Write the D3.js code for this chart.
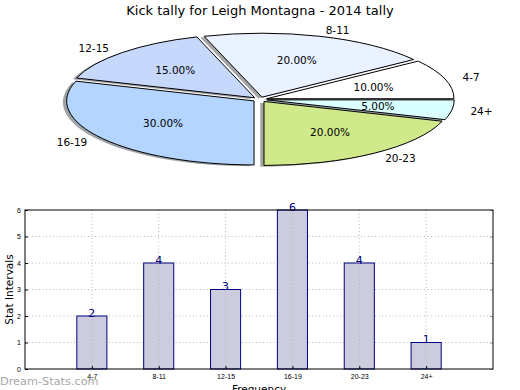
<!DOCTYPE html>
<html>
<head>
<meta charset="utf-8">
<script src="https://cdn.jsdelivr.net/npm/d3@7"></script>
<style>
  body { margin: 0; background: #fff; }
  svg { font-family: "DejaVu Sans", sans-serif; }
</style>
</head>
<body>
<svg id="chart" width="520" height="390"></svg>
<script>
var categories = ["4-7", "8-11", "12-15", "16-19", "20-23", "24+"];
var counts = [2, 4, 3, 6, 4, 1];
var sliceColors = ["#ffffff", "#eaf1ff", "#c6d9fd", "#b3d5ff", "#cfe98b", "#d9ffff"];
var yTicks = [0, 1, 2, 3, 4, 5, 6];
var title = "Kick tally for Leigh Montagna - 2014 tally";

var svg = d3.select("#chart");

// ---- pie (squashed, exploded, with shadow) ----
var cx = 259.8, cy = 99.5, rx = 187.4, ry = 64, explode = 0.038;
var total = d3.sum(counts);

var pie = d3.pie().sort(null)
  .startAngle(Math.PI / 2)
  .endAngle(Math.PI / 2 - 2 * Math.PI)
  .value(function (d) { return d; });
var arcs = pie(counts);
var arc = d3.arc().innerRadius(0).outerRadius(1);

function mid(d) { return (d.startAngle + d.endAngle) / 2; }
function offX(d) { return cx + explode * rx * Math.sin(mid(d)); }
function offY(d) { return cy - explode * ry * Math.cos(mid(d)); }

svg.append("text")
  .attr("x", 260).attr("y", 15)
  .attr("text-anchor", "middle")
  .style("font-size", "13px")
  .text(title);

var pieG = svg.append("g");

// shadows first
pieG.selectAll("path.shadow")
  .data(arcs)
  .enter().append("path")
  .attr("class", "shadow")
  .attr("transform", function (d) {
    return "translate(" + (offX(d) - 0.02 * rx) + "," + (offY(d) + 0.02 * ry) + ") scale(" + rx + "," + ry + ")";
  })
  .attr("d", arc)
  .attr("fill", function (d, i) { return d3.rgb(sliceColors[i]).darker(4); })
  .attr("opacity", 0.45)
  .attr("stroke", "none");

pieG.selectAll("path.wedge")
  .data(arcs)
  .enter().append("path")
  .attr("class", "wedge")
  .attr("transform", function (d) {
    return "translate(" + offX(d) + "," + offY(d) + ") scale(" + rx + "," + ry + ")";
  })
  .attr("d", arc)
  .attr("fill", function (d, i) { return sliceColors[i]; })
  .attr("stroke", "#000")
  .attr("stroke-width", 1)
  .attr("vector-effect", "non-scaling-stroke");

pieG.selectAll("text.lab")
  .data(arcs)
  .enter().append("text")
  .attr("class", "lab")
  .attr("x", function (d) { return offX(d) + 1.1 * rx * Math.sin(mid(d)); })
  .attr("y", function (d) { return offY(d) - 1.1 * ry * Math.cos(mid(d)); })
  .attr("dy", "0.35em")
  .attr("text-anchor", function (d) { return Math.sin(mid(d)) > 0 ? "start" : "end"; })
  .style("font-size", "10.5px")
  .text(function (d, i) { return categories[i]; });

pieG.selectAll("text.pct")
  .data(arcs)
  .enter().append("text")
  .attr("class", "pct")
  .attr("x", function (d) { return offX(d) + 0.6 * rx * Math.sin(mid(d)); })
  .attr("y", function (d) { return offY(d) - 0.6 * ry * Math.cos(mid(d)); })
  .attr("dy", "0.35em")
  .attr("text-anchor", "middle")
  .style("font-size", "10.5px")
  .text(function (d) { return (d.value / total * 100).toFixed(2) + "%"; });

// ---- bar chart ----
var margin = { left: 25, top: 210, right: 27, bottom: 21 };
var width = 520 - margin.left - margin.right,
  height = 390 - margin.top - margin.bottom;

var x = d3.scaleLinear().domain([0, categories.length + 1]).range([0, width]);
var y = d3.scaleLinear().domain([0, 6]).range([height, 0]);
var barW = 0.45;

var g = svg.append("g")
  .attr("transform", "translate(" + margin.left + "," + margin.top + ")");

// grid
g.append("g").selectAll("line")
  .data(yTicks.slice(1, -1))
  .enter().append("line")
  .attr("x1", 0).attr("x2", width)
  .attr("y1", function (d) { return y(d); })
  .attr("y2", function (d) { return y(d); })
  .attr("stroke", "#b8b8b8")
  .attr("stroke-dasharray", "1,2.5");

g.append("g").selectAll("rect")
  .data(counts)
  .enter().append("rect")
  .attr("x", function (d, i) { return x(i + 1 - barW / 2); })
  .attr("y", function (d) { return y(d); })
  .attr("width", x(barW) - x(0))
  .attr("height", function (d) { return height - y(d); })
  .attr("fill", "#ccccdf")
  .attr("stroke", "#000080")
  .attr("stroke-width", 1);

g.append("g").selectAll("line")
  .data(categories)
  .enter().append("line")
  .attr("x1", function (d, i) { return x(i + 1); })
  .attr("x2", function (d, i) { return x(i + 1); })
  .attr("y1", 0).attr("y2", height)
  .attr("stroke", "#b8b8b8")
  .attr("stroke-dasharray", "1,2.5");

g.append("g").selectAll("text")
  .data(counts)
  .enter().append("text")
  .attr("x", function (d, i) { return x(i + 1); })
  .attr("y", function (d) { return y(d) + 0.5; })
  .attr("text-anchor", "middle")
  .attr("fill", "#000080")
  .style("font-size", "11px")
  .text(function (d) { return d; });

// axes
var yAxis = d3.axisLeft(y).tickValues(yTicks).tickFormat(d3.format("d"))
  .tickSize(-3).tickPadding(4);
var xAxis = d3.axisBottom(x)
  .tickValues(d3.range(1, categories.length + 1))
  .tickFormat(function (d) { return categories[d - 1]; })
  .tickSize(-3).tickPadding(5);

g.append("g").call(yAxis)
  .call(function (s) { s.select(".domain").remove(); })
  .selectAll("text").style("font-size", "7px").attr("fill", "#000");
g.append("g").attr("transform", "translate(0," + height + ")").call(xAxis)
  .call(function (s) { s.select(".domain").remove(); })
  .selectAll("text").style("font-size", "7px").attr("fill", "#000");
g.append("g").attr("transform", "translate(" + width + ",0)")
  .call(d3.axisRight(y).tickValues(yTicks).tickSize(-3).tickFormat(""))
  .call(function (s) { s.select(".domain").remove(); })
  .selectAll("line").attr("stroke", "#999");

g.append("rect")
  .attr("width", width).attr("height", height)
  .attr("fill", "none").attr("stroke", "#000").attr("stroke-width", 1);

svg.append("text")
  .attr("transform", "translate(9," + (margin.top + height / 2) + ") rotate(-90)")
  .attr("text-anchor", "middle")
  .attr("dy", "0.35em")
  .style("font-size", "10.5px")
  .text("Stat Intervals");

svg.append("text")
  .attr("x", margin.left + width / 2).attr("y", 393)
  .attr("text-anchor", "middle")
  .style("font-size", "10.5px")
  .text("Frequency");

svg.append("text")
  .attr("x", 0).attr("y", 385)
  .attr("fill", "#999")
  .attr("opacity", 0.85)
  .style("font-size", "11.3px")
  .text("Dream-Stats.com");
</script>
</body>
</html>
